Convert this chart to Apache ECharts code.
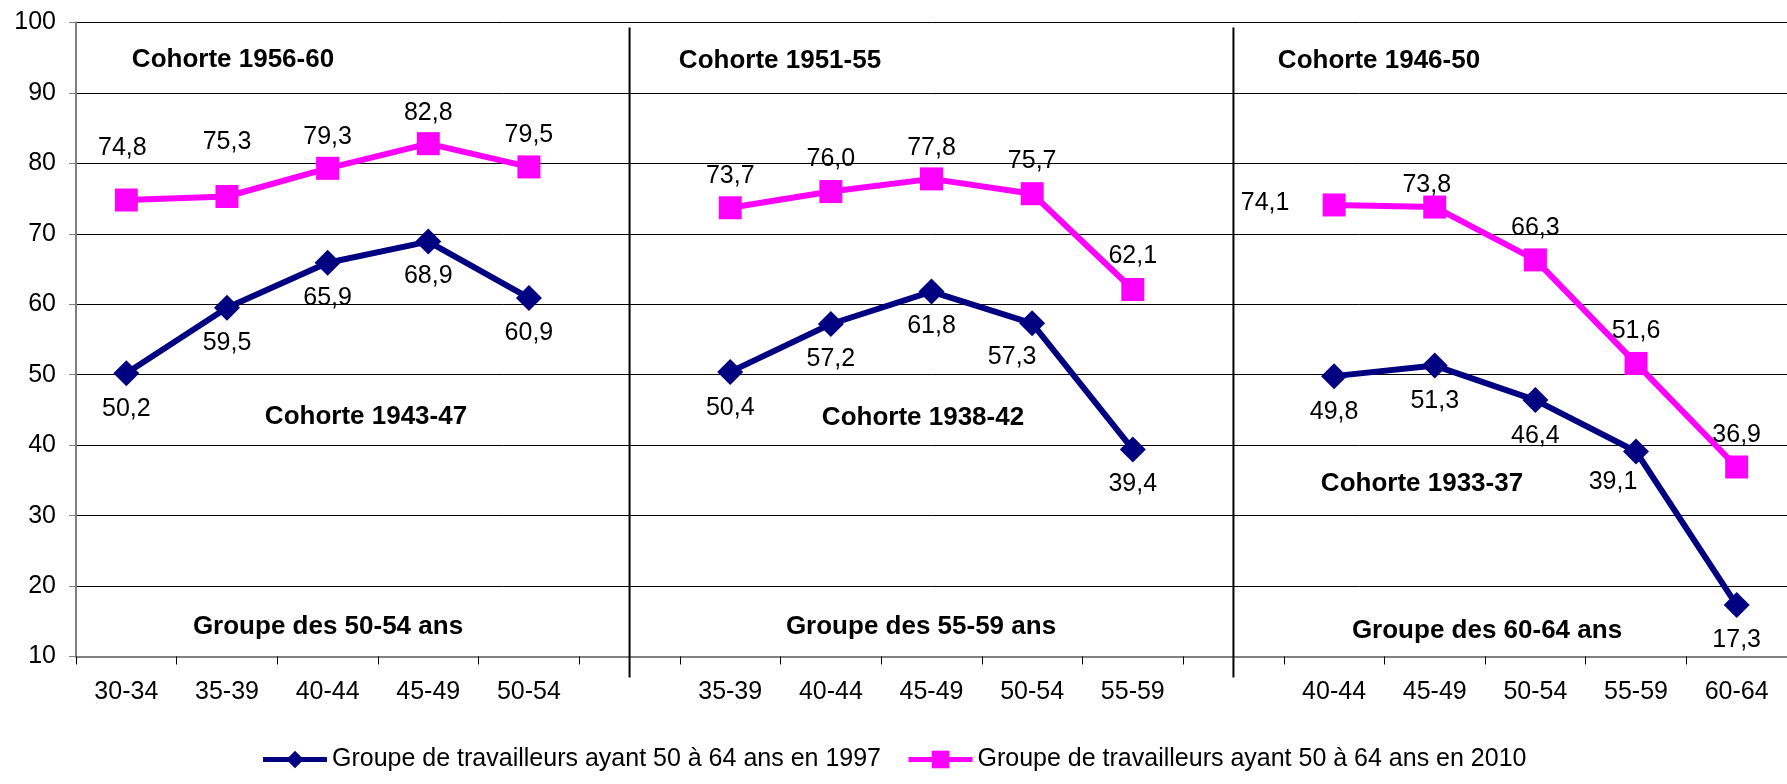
<!DOCTYPE html>
<html>
<head>
<meta charset="utf-8">
<script src="https://cdn.jsdelivr.net/npm/echarts@6/dist/echarts.min.js"></script>
<style>
	html, body { margin: 0; padding: 0; background: #fff; }
	#main { width: 1787px; height: 784px; }
</style>
</head>
<body>
<div id="main"></div>
<script>
	// tranches d'age, une case vide entre chaque groupe
	var categories = ['30-34', '35-39', '40-44', '45-49', '50-54', '',
		'35-39', '40-44', '45-49', '50-54', '55-59', '',
		'40-44', '45-49', '50-54', '55-59', '60-64'];

	var serie1997 = [50.2, 59.5, 65.9, 68.9, 60.9, null,
		50.4, 57.2, 61.8, 57.3, 39.4, null,
		49.8, 51.3, 46.4, 39.1, 17.3];

	var serie2010 = [74.8, 75.3, 79.3, 82.8, 79.5, null,
		73.7, 76.0, 77.8, 75.7, 62.1, null,
		74.1, 73.8, 66.3, 51.6, 36.9];

	var legende = ['Groupe de travailleurs ayant 50 à 64 ans en 1997',
		'Groupe de travailleurs ayant 50 à 64 ans en 2010'];

	var yTicks = [10, 20, 30, 40, 50, 60, 70, 80, 90, 100];

	var cohortes = ['Cohorte 1956-60', 'Cohorte 1943-47', 'Groupe des 50-54 ans',
		'Cohorte 1951-55', 'Cohorte 1938-42', 'Groupe des 55-59 ans',
		'Cohorte 1946-50', 'Cohorte 1933-37', 'Groupe des 60-64 ans'];

	// décalage des étiquettes (placées à la main dans l'original)
	var decal1997 = [[0, 36], [0, 35], [0, 35], [0, 35], [0, 35], null,
		[0, 36], [0, 35], [0, 35], [-20, 34], [0, 35], null,
		[0, 36], [0, 36], [0, 36], [-23, 31], [0, 35]];
	var decal2010 = [[-4, -52], [0, -54], [0, -31], [0, -31], [0, -32], null,
		[0, -32], [0, -32], [0, -31], [0, -33], [0, -33], null,
		[-69, -2], [-8, -22], [0, -32], [0, -32], [0, -32]];

	// position des titres de cohorte (pixels)
	var posCohortes = [[233, 60], [366, 417], [328, 627],
		[780, 61], [923, 418], [921, 627],
		[1379, 61], [1422, 484], [1487, 631]];

	var police = "'Liberation Sans', Arial, sans-serif";

	function virgule(v) {
		return v.toFixed(1).replace('.', ',');
	}

	function points(valeurs, decal) {
		return valeurs.map(function(v, i) {
			if (v === null) return null;
			return {
				value: v,
				label: { offset: decal[i] }
			};
		});
	}

	var myChart = echarts.init(document.getElementById('main'));

	var option = {
		animation: false,
		backgroundColor: '#fff',
		textStyle: { fontFamily: police },
		grid: {
			left: 76,
			top: 22.5,
			width: 1722,
			height: 634
		},
		legend: {
			left: 'center',
			top: 742,
			itemWidth: 64,
			itemHeight: 22,
			itemGap: 25,
			lineStyle: { width: 5 },
			textStyle: { fontSize: 25, color: '#000', fontFamily: police },
			data: legende
		},
		xAxis: {
			type: 'category',
			data: categories,
			boundaryGap: true,
			axisLine: { lineStyle: { color: '#808080', width: 2 } },
			axisTick: { show: true, length: 8, interval: 0, lineStyle: { color: '#000' } },
			axisLabel: { interval: 0, margin: 23, fontSize: 25, color: '#000', fontFamily: police },
			splitLine: { show: false }
		},
		yAxis: {
			type: 'value',
			min: yTicks[0],
			max: yTicks[yTicks.length - 1],
			interval: 10,
			axisLine: { show: true, lineStyle: { color: '#808080', width: 2 } },
			axisTick: { show: true, length: 7, inside: false, lineStyle: { color: '#808080' } },
			axisLabel: { margin: 20, fontSize: 25, color: '#000', fontFamily: police },
			splitLine: { show: true, lineStyle: { color: '#000', width: 1 } }
		},
		series: [{
				name: legende[0],
				type: 'line',
				data: points(serie1997, decal1997),
				symbol: 'diamond',
				symbolSize: 26,
				color: '#000080',
				lineStyle: { width: 6, color: '#000080' },
				label: {
					show: true,
					position: 'inside',
					fontSize: 25,
					color: '#000',
					fontFamily: police,
					formatter: function(p) { return virgule(p.value); }
				},
				z: 3
			},
			{
				name: legende[1],
				type: 'line',
				data: points(serie2010, decal2010),
				symbol: 'rect',
				symbolSize: 23,
				color: '#ff00ff',
				lineStyle: { width: 6, color: '#ff00ff' },
				label: {
					show: true,
					position: 'inside',
					fontSize: 25,
					color: '#000',
					fontFamily: police,
					formatter: function(p) { return virgule(p.value); }
				},
				z: 3
			}
		]
	};

	myChart.setOption(option);

	// séparateurs verticaux au milieu des cases vides + titres de cohorte
	var haut = myChart.convertToPixel({ yAxisIndex: 0 }, 100);
	var bas = myChart.convertToPixel({ yAxisIndex: 0 }, 10);
	var elements = [];
	categories.forEach(function(c, i) {
		if (c !== '') return;
		var x = myChart.convertToPixel({ xAxisIndex: 0 }, i);
		elements.push({
			type: 'line',
			shape: { x1: x, y1: haut + 5, x2: x, y2: bas + 21 },
			style: { stroke: '#000', lineWidth: 2 },
			z: 5
		});
	});
	cohortes.forEach(function(t, i) {
		elements.push({
			type: 'text',
			x: posCohortes[i][0],
			y: posCohortes[i][1],
			style: {
				text: t,
				fontSize: 26,
				fontWeight: 'bold',
				fontFamily: police,
				fill: '#000',
				align: 'center',
				verticalAlign: 'middle'
			},
			z: 5
		});
	});
	myChart.setOption({ graphic: elements });
</script>
</body>
</html>
